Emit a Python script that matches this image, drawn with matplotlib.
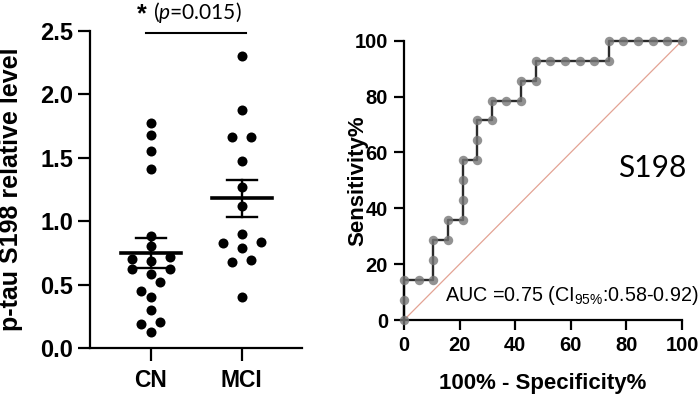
import numpy as np
import matplotlib
matplotlib.use("Agg")
import matplotlib.pyplot as plt

plt.rcParams['font.family'] = ['Liberation Sans', 'DejaVu Sans']
plt.rcParams['mathtext.fontset'] = 'custom'
plt.rcParams['mathtext.it'] = 'Lato:italic'
plt.rcParams['mathtext.default'] = 'regular'

# data
groups = ["CN", "MCI"]
cn = [1.772, 1.680, 1.556, 1.414, 0.884, 0.808, 0.721, 0.701, 0.688, 0.627,
      0.622, 0.583, 0.520, 0.454, 0.402, 0.302, 0.207, 0.189, 0.131]
mci = [2.302, 1.876, 1.666, 1.661, 1.477, 1.272, 1.120, 0.898, 0.840, 0.832,
       0.790, 0.692, 0.677, 0.406]
yticks_left = [0.0, 0.5, 1.0, 1.5, 2.0, 2.5]
roc_ticks = [0, 20, 40, 60, 80, 100]
p_text = "($\\it{p}$=0.015)"
auc_text = "AUC =0.75 (CI$_{95\\%}$:0.58-0.92)"
marker_name = "S198"


def swarm_offsets(vals, binw=0.1, step=0.209):
    # group values into bins and spread each bin sideways (GraphPad style)
    vals = np.asarray(vals)
    bins = np.round(vals / binw).astype(int)
    off = np.zeros(len(vals))
    for b in np.unique(bins):
        idx = np.where(bins == b)[0]
        idx = idx[np.argsort(vals[idx])]
        n = len(idx)
        if n % 2:
            slots = [0]
            k = 1
            while len(slots) < n:
                slots += [-k, k]
                k += 1
        else:
            slots = []
            k = 0.5
            while len(slots) < n:
                slots += [-k, k]
                k += 1
        for i, s in zip(idx, slots[:n]):
            off[i] = s * step
    return off


fig = plt.figure(figsize=(7, 3.95), dpi=100)

# ---------------- left: dot plot ----------------
ax = fig.add_axes([90 / 700, 46.7 / 395, 212 / 700, 317.6 / 395])
for i, vals in enumerate([cn, mci]):
    vals = np.array(vals)
    x = i + swarm_offsets(vals)
    ax.scatter(x, vals, s=52, color='black', zorder=3, clip_on=False, linewidths=0)
    m = vals.mean()
    sem = vals.std(ddof=1) / np.sqrt(len(vals))
    ax.plot([i - 0.33, i + 0.33], [m, m], color='black', lw=2.6, zorder=4)
    ax.plot([i - 0.165, i + 0.165], [m + sem, m + sem], color='black', lw=1.7, zorder=4)
    ax.plot([i - 0.165, i + 0.165], [m - sem, m - sem], color='black', lw=1.7, zorder=4)
    ax.plot([i, i], [m - sem, m + sem], color='black', lw=1.7, zorder=4)

ax.set_xlim(-0.667, 1.663)
ax.set_ylim(0, 2.5)
ax.set_xticks([0, 1])
ax.set_xticklabels(groups, fontsize=16.5, fontweight='bold')
ax.set_yticks(yticks_left)
ax.set_yticklabels([f"{v:.1f}" for v in yticks_left], fontsize=17, fontweight='bold')
ax.tick_params(axis='both', length=9, width=1.6, pad=3)
ax.tick_params(axis='x', pad=6)
for s in ['top', 'right']:
    ax.spines[s].set_visible(False)
for s in ['left', 'bottom']:
    ax.spines[s].set_linewidth(1.6)
ax.set_ylabel("p-tau S198 relative level", fontsize=18, fontweight='bold')
ax.yaxis.set_label_coords(-0.318, 0.5)

# significance bar
ax.plot([-0.05, 1.047], [2.483, 2.483], color='black', lw=1.5, clip_on=False)
ax.text(-0.096, 2.63, "*", fontsize=18, fontweight='bold', ha='center', va='center')
ax.text(0.025, 2.595, p_text, fontsize=15, family='Lato', ha='left', va='baseline')

# ---------------- right: ROC curve ----------------
ax2 = fig.add_axes([404 / 700, 75 / 395, 278 / 700, 279.3 / 395])

# walk the thresholds from high to low
allv = np.array(cn + mci)
is_pos = np.array([0] * len(cn) + [1] * len(mci))
order = np.argsort(-allv, kind='stable')
tp = np.concatenate([[0], np.cumsum(is_pos[order])])
fp = np.concatenate([[0], np.cumsum(1 - is_pos[order])])
sens = 100 * tp / len(mci)
fpr = 100 * fp / len(cn)

ax2.plot([0, 100], [0, 100], color='#e3a394', lw=0.9, zorder=1)
ax2.plot(fpr, sens, color='#2b2b2b', lw=1.7, zorder=2, clip_on=False)
ax2.plot(fpr, sens, 'o', ms=6.8, color='#777777', alpha=0.8, mec='none',
         zorder=3, clip_on=False)

ax2.set_xlim(0, 100)
ax2.set_ylim(0, 100)
ax2.set_xticks(roc_ticks)
ax2.set_yticks(roc_ticks)
ax2.set_xticklabels([str(t) for t in roc_ticks], fontsize=14.5, fontweight='bold')
ax2.set_yticklabels([str(t) for t in roc_ticks], fontsize=14.5, fontweight='bold')
ax2.tick_params(axis='both', length=7.5, width=1.6, pad=4)
for s in ['top', 'right']:
    ax2.spines[s].set_visible(False)
for s in ['left', 'bottom']:
    ax2.spines[s].set_linewidth(1.6)
ax2.set_xlabel("100% - Specificity%", fontsize=16, fontweight='bold')
ax2.set_ylabel("Sensitivity%", fontsize=16, fontweight='bold')
ax2.xaxis.set_label_coords(0.5, -0.19)
ax2.yaxis.set_label_coords(-0.13, 0.5)

ax2.text(77.0, 54.3, marker_name, fontsize=21.5, family='Lato', ha='left', va='center')
ax2.text(14.7, 6.9, auc_text, fontsize=14.2, ha='left', va='baseline', clip_on=False)

fig.savefig("out.png", dpi=100)
